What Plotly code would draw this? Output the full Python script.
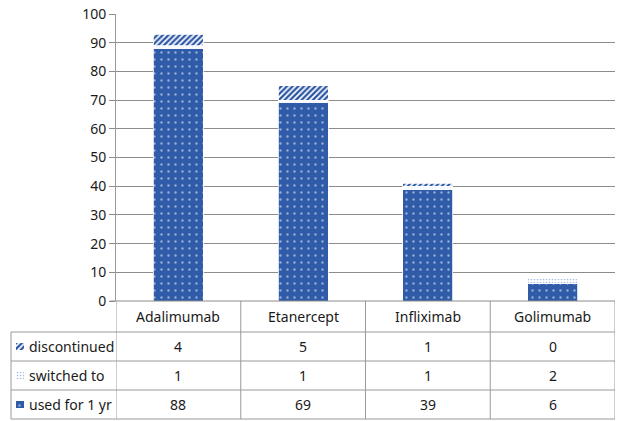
import plotly.graph_objects as go

# Data
drugs = ["Adalimumab", "Etanercept", "Infliximab", "Golimumab"]
used_1yr = [88, 69, 39, 6]
switched_to = [1, 1, 1, 2]
discontinued = [4, 5, 1, 0]
row_labels = ["discontinued", "switched to", "used for 1 yr"]
y_ticks = [0, 10, 20, 30, 40, 50, 60, 70, 80, 90, 100]

W, H = 620, 421
ML, MR, MT, MB = 11, 5, 14, 2
PW, PH = W - ML - MR, H - MT - MB


def px_x(px):
    return (px - ML) / PW


def px_y(py):
    return (H - MB - py) / PH


BLUE = "#2F5BA8"
GRID = "#8C8C8C"
LINE = "#9A9A9A"
FONT = "Noto Sans, Open Sans, sans-serif"

used_pattern = dict(shape=".", fgcolor="white", bgcolor=BLUE, size=7, solidity=0.09)
switch_pattern = dict(shape=".", fgcolor="#5B80C4", bgcolor="white", size=3, solidity=0.25)
disc_pattern = dict(shape="/", fgcolor="#2A55A3", bgcolor="white", size=4, solidity=0.55,
                    fgopacity=1)

fig = go.Figure()
fig.add_trace(go.Bar(x=drugs, y=used_1yr, name="used for 1 yr", width=0.4,
                     marker=dict(color=BLUE, pattern=used_pattern,
                                 line=dict(color="white", width=0.8))))
fig.add_trace(go.Bar(x=drugs, y=switched_to, name="switched to", width=0.4,
                     marker=dict(color="white", pattern=switch_pattern,
                                 line=dict(color="white", width=0.8))))
fig.add_trace(go.Bar(x=drugs, y=discontinued, name="discontinued", width=0.4,
                     marker=dict(color="white", pattern=disc_pattern,
                                 line=dict(color="white", width=0.8))))

# Legend keys inside the data table (one small bar per row)
key_patterns = [disc_pattern, switch_pattern, used_pattern]
for i, (lab, pat) in enumerate(zip(row_labels, key_patterns)):
    fig.add_trace(go.Bar(x=[1], y=[2 - i], orientation="h", width=0.26,
                         xaxis="x2", yaxis="y2", showlegend=False, hoverinfo="skip",
                         marker=dict(color="white", pattern=pat,
                                     line=dict(width=0))))

table_top = px_y(332)
fig.update_layout(
    width=W, height=H,
    margin=dict(l=ML, r=MR, t=MT, b=MB, autoexpand=False),
    barmode="stack",
    bargap=0.6,
    showlegend=False,
    plot_bgcolor="white",
    paper_bgcolor="white",
    font=dict(family=FONT, size=14, color="#1A1A1A"),
    xaxis=dict(domain=[px_x(116), 1], range=[-0.5, 3.5], showticklabels=False,
               showgrid=False, zeroline=False, showline=False, ticks="",
               automargin=False),
    yaxis=dict(domain=[px_y(301), 1], range=[0, 100], tickvals=y_ticks,
               showgrid=True, gridcolor=GRID, gridwidth=1, zeroline=False,
               showline=True, linecolor=LINE, linewidth=1,
               ticks="outside", ticklen=6, tickcolor=GRID, automargin=False,
               tickfont=dict(size=14, color="#1A1A1A")),
    xaxis2=dict(domain=[px_x(16), px_x(24)], range=[0, 1], visible=False,
                anchor="y2", automargin=False),
    yaxis2=dict(domain=[0, table_top], range=[-0.5, 2.5], visible=False,
                anchor="x2", automargin=False),
)

shapes = []
y_axis0 = px_y(301)
# vertical dividers under each category boundary
for xb in [-0.5, 0.5, 1.5, 2.5, 3.5]:
    shapes.append(dict(type="line", xref="x", yref="paper", x0=xb, x1=xb,
                       y0=0, y1=y_axis0, line=dict(color=LINE, width=1)))
# left edge of the row-label column
shapes.append(dict(type="line", xref="paper", yref="paper", x0=0, x1=0,
                   y0=0, y1=table_top, line=dict(color=LINE, width=1)))
# horizontal table lines
for py in [332, 361, 390, 419]:
    shapes.append(dict(type="line", xref="paper", yref="paper", x0=0, x1=1,
                       y0=px_y(py), y1=px_y(py), line=dict(color=LINE, width=1)))
# category axis baseline
shapes.append(dict(type="line", xref="paper", yref="paper", x0=px_x(110), x1=1,
                   y0=y_axis0, y1=y_axis0, line=dict(color=GRID, width=1)))
fig.update_layout(shapes=shapes)

ann = []
# category names
for d in drugs:
    ann.append(dict(x=d, y=px_y(316.5), xref="x", yref="paper", text=d,
                    showarrow=False, xanchor="center", yanchor="middle",
                    font=dict(size=14)))
row_centers = [346.5, 375.5, 404.5]
row_values = [discontinued, switched_to, used_1yr]
for lab, vals, cy in zip(row_labels, row_values, row_centers):
    ann.append(dict(x=px_x(27), y=px_y(cy), xref="paper", yref="paper", text=lab,
                    showarrow=False, xanchor="left", yanchor="middle",
                    font=dict(size=14)))
    for d, v in zip(drugs, vals):
        ann.append(dict(x=d, y=px_y(cy), xref="x", yref="paper", text=str(v),
                        showarrow=False, xanchor="center", yanchor="middle",
                        font=dict(size=14)))
fig.update_layout(annotations=ann)

fig.write_html("out.html")
